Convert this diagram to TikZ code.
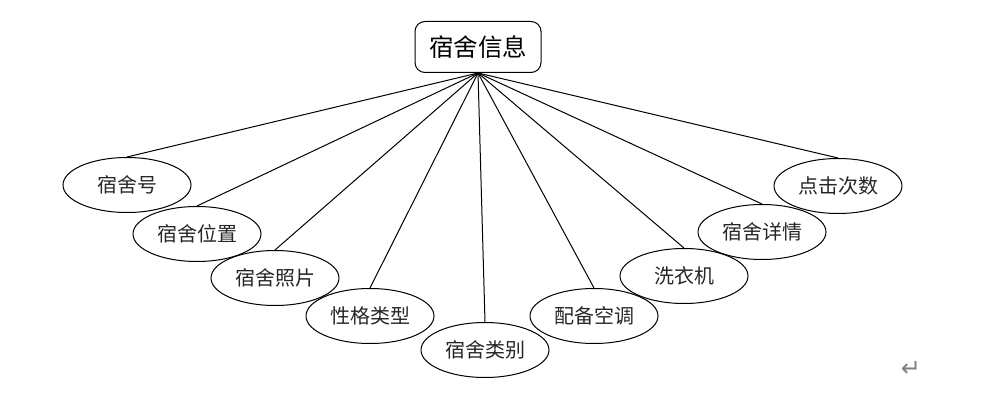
\documentclass[tikz,border=0pt]{standalone}
\usepackage{fontspec}
\setmainfont{Noto Sans CJK SC}
\newfontfamily\symfont{DejaVu Sans}
\usetikzlibrary{shapes.geometric}

\begin{document}
\begin{tikzpicture}[
    x=1pt,y=-1pt,
    ent/.style={rectangle,draw,rounded corners=10pt,minimum width=126pt,minimum height=51pt,inner sep=0pt,font=\fontsize{24.5}{24.5}\selectfont,line width=1pt},
    attr/.style={ellipse,draw,minimum width=128pt,minimum height=55pt,inner sep=0pt,font=\fontsize{20}{20}\selectfont\color{black!85},line width=1pt},
    lnk/.style={line width=1pt},
]
\useasboundingbox (0,0) rectangle (993,398);

\node[ent] (info) at (478,47) {宿舍信息};

\node[attr] (num) at (127,185) {宿舍号};
\node[attr] (loc) at (197,234) {宿舍位置};
\node[attr] (photo) at (275,278) {宿舍照片};
\node[attr] (trait) at (370,316) {性格类型};
\node[attr] (kind) at (485,350) {宿舍类别};
\node[attr] (ac) at (594,316) {配备空调};
\node[attr] (washer) at (684,276) {洗衣机};
\node[attr] (detail) at (762,232) {宿舍详情};
\node[attr] (clicks) at (838,186) {点击次数};

\foreach \n in {num,loc,photo,trait,kind,ac,washer,detail,clicks}
    \draw[lnk] (info.south) -- (\n.north);

\node[font=\symfont\fontsize{24}{24}\selectfont,gray] (mark) at (911,369) {↵};
\end{tikzpicture}
\end{document}
